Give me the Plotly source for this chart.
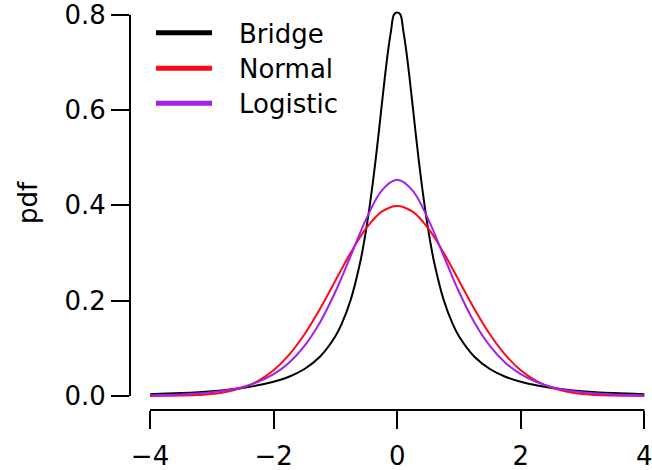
import plotly.graph_objects as go

# Density values of the three distributions (unit variance each)
x_grid = [-4, -3.75, -3.5, -3.25, -3, -2.75, -2.5, -2.25, -2, -1.75, -1.5, -1.25, -1,
          -0.75, -0.5, -0.25, 0, 0.25, 0.5, 0.75, 1, 1.25, 1.5, 1.75, 2, 2.25, 2.5,
          2.75, 3, 3.25, 3.5, 3.75, 4]
normal_pdf = [0.0001, 0.0004, 0.0009, 0.0020, 0.0044, 0.0091, 0.0175, 0.0317, 0.0540,
              0.0863, 0.1295, 0.1826, 0.2420, 0.3011, 0.3521, 0.3867, 0.3989, 0.3867,
              0.3521, 0.3011, 0.2420, 0.1826, 0.1295, 0.0863, 0.0540, 0.0317, 0.0175,
              0.0091, 0.0044, 0.0020, 0.0009, 0.0004, 0.0001]
logistic_pdf = [0.0013, 0.0020, 0.0032, 0.0050, 0.0078, 0.0122, 0.0190, 0.0296, 0.0457,
                0.0698, 0.1052, 0.1543, 0.2187, 0.2948, 0.3716, 0.4310, 0.4535, 0.4310,
                0.3716, 0.2948, 0.2187, 0.1543, 0.1052, 0.0698, 0.0457, 0.0296, 0.0190,
                0.0122, 0.0078, 0.0050, 0.0032, 0.0020, 0.0013]

x_bridge = [-4, -3.5, -3, -2.5, -2, -1.75, -1.5, -1.25, -1, -0.9, -0.75, -0.6, -0.55,
            -0.5, -0.45, -0.4, -0.35, -0.3, -0.25, -0.2, -0.15, -0.1, -0.05, 0, 0.05,
            0.1, 0.15, 0.2, 0.25, 0.3, 0.35, 0.4, 0.45, 0.5, 0.55, 0.6, 0.75, 0.9, 1,
            1.25, 1.5, 1.75, 2, 2.5, 3, 3.5, 4]
bridge_pdf = [0.0039, 0.0062, 0.0101, 0.0169, 0.0297, 0.0404, 0.0566, 0.0822, 0.1252,
              0.1506, 0.2027, 0.2797, 0.3130, 0.3508, 0.3935, 0.4413, 0.4940, 0.5507,
              0.6097, 0.6681, 0.7217, 0.7655, 0.8007, 0.8045, 0.8007, 0.7655, 0.7217,
              0.6681, 0.6097, 0.5507, 0.4940, 0.4413, 0.3935, 0.3508, 0.3130, 0.2797,
              0.2027, 0.1506, 0.1252, 0.0822, 0.0566, 0.0404, 0.0297, 0.0169, 0.0101,
              0.0062, 0.0039]

x_ticks = [-4, -2, 0, 2, 4]
x_tick_text = ["\u22124", "\u22122", "0", "2", "4"]
y_ticks = [0.0, 0.2, 0.4, 0.6, 0.8]
y_tick_text = ["0.0", "0.2", "0.4", "0.6", "0.8"]

series_names = ["Bridge", "Normal", "Logistic"]
series_colors = ["black", "#FF0A14", "#A020F0"]

FONT = "DejaVu Sans"
FS = 26

fig = go.Figure()
for xs, ys, name, col in [(x_bridge, bridge_pdf, series_names[0], series_colors[0]),
                          (x_grid, normal_pdf, series_names[1], series_colors[1]),
                          (x_grid, logistic_pdf, series_names[2], series_colors[2])]:
    fig.add_trace(go.Scatter(x=xs, y=ys, mode="lines", name=name,
                             line=dict(color=col, width=2, shape="spline"),
                             showlegend=False, hoverinfo="skip"))

W, H = 652, 470
L, R, T, B = 130, 0, 0, 60
pw, ph = W - L - R, H - T - B


def px(xp):
    return (xp - L) / pw


def py(yp):
    return (H - B - yp) / ph


shapes = [
    # axis lines spanning only the tick range
    dict(type="line", xref="x", yref="paper", x0=-4, x1=4, y0=0, y1=0,
         line=dict(color="black", width=2)),
    dict(type="line", xref="paper", yref="y", x0=0, x1=0, y0=0, y1=0.8,
         line=dict(color="black", width=2)),
]

# legend key
leg_y = [32.7, 68.3, 103.3]
annotations = []
for name, col, yy in zip(series_names, series_colors, leg_y):
    shapes.append(dict(type="line", xref="paper", yref="paper",
                       x0=px(156), x1=px(212), y0=py(yy), y1=py(yy),
                       line=dict(color=col, width=5)))
    annotations.append(dict(x=px(237), y=py(yy + 1), xref="paper", yref="paper",
                            text=name, showarrow=False, xanchor="left", yanchor="middle",
                            font=dict(family=FONT, size=FS, color="black")))

annotations.append(dict(x=px(28), y=py(203), xref="paper", yref="paper", text="pdf",
                        textangle=-90, showarrow=False, xanchor="center", yanchor="middle",
                        font=dict(family=FONT, size=FS, color="black")))

fig.update_layout(
    width=W, height=H,
    margin=dict(l=L, r=R, t=T, b=B),
    paper_bgcolor="white", plot_bgcolor="white",
    shapes=shapes, annotations=annotations,
    xaxis=dict(range=[-4.3237, 4.124], showgrid=False, zeroline=False, showline=False,
               tickmode="array", tickvals=x_ticks, ticktext=x_tick_text,
               ticks="outside", ticklen=18, tickwidth=2, tickcolor="black",
               ticklabeloverflow="allow", ticklabelstandoff=5,
               tickfont=dict(family=FONT, size=FS, color="black")),
    yaxis=dict(range=[-0.0294, 0.8309], showgrid=False, zeroline=False, showline=False,
               tickmode="array", tickvals=y_ticks, ticktext=y_tick_text,
               ticks="outside", ticklen=18, tickwidth=2, tickcolor="black",
               ticklabeloverflow="allow",
               tickfont=dict(family=FONT, size=FS, color="black")),
)

fig.write_html("out.html")
